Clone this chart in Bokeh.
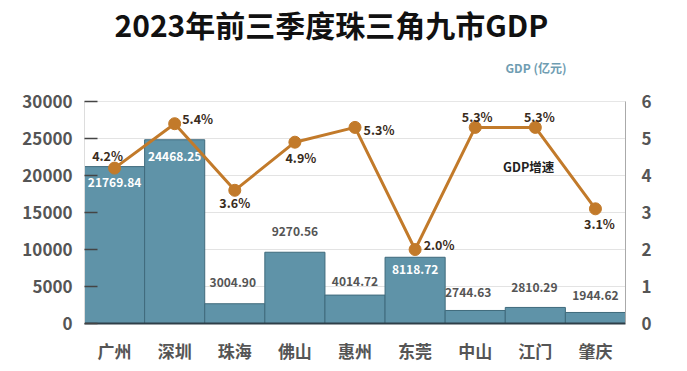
from bokeh.plotting import figure
from bokeh.models import (ColumnDataSource, Range1d, LinearAxis, Label, FactorRange,
                          FixedTicker, Title)
from bokeh.core.properties import value
from bokeh.embed import file_html
from bokeh.resources import INLINE

# ---------------- data ----------------
cities = ['广州', '深圳', '珠海', '佛山', '惠州', '东莞', '中山', '江门', '肇庆']
gdp_bar_heights = [21200, 24830, 2670, 9630, 3840, 8950, 1760, 2170, 1490]
gdp_labels = ['21769.84', '24468.25', '3004.90', '9270.56', '4014.72',
              '8118.72', '2744.63', '2810.29', '1944.62']
growth = [4.2, 5.4, 3.6, 4.9, 5.3, 2.0, 5.3, 5.3, 3.1]
growth_labels = ['4.2%', '5.4%', '3.6%', '4.9%', '5.3%', '2.0%', '5.3%', '5.3%', '3.1%']
left_ticks = [0, 5000, 10000, 15000, 20000, 25000, 30000]
right_ticks = [0, 1, 2, 3, 4, 5, 6]

# ---------------- styles ----------------
FONT = "Noto Sans CJK SC"
BAR_COLOR = "#5f93a8"
BAR_EDGE = "#3f6a7c"
LINE_COLOR = "#c27a2a"
AXIS_TEXT = "#555555"

# per-label pixel offsets (screen, y down) and colours
gdp_lab_dx = [0, 0, -2, 0, 0, 0, -7, -1, 0]
gdp_lab_dy = [16, 17, -21, -21, -14, 12, -18, -20, -17]
gdp_lab_col = ['white', 'white', '#555555', '#555555', '#555555', 'white',
               '#555555', '#555555', '#555555']
gr_dx = [-7, 23, 0, 6, 24, 24, 2, 4, 4]
gr_dy = [-13, -5, 12, 15, 2, -5, -11, -11, 15]

p = figure(x_range=FactorRange(*cities), y_range=Range1d(0, 30000),
           width=687, height=371, output_backend="svg", toolbar_location=None,
           title=None,
           min_border_left=84, min_border_right=62, min_border_top=101,
           min_border_bottom=48)
p.extra_y_ranges = {"rate": Range1d(0, 6)}
p.outline_line_color = "#e6e6e6"
p.background_fill_color = "white"
p.border_fill_color = "white"

src = ColumnDataSource(dict(city=cities, h=gdp_bar_heights, lab=gdp_labels,
                            dx=gdp_lab_dx, dy=gdp_lab_dy, col=gdp_lab_col,
                            g=growth, glab=growth_labels, gdx=gr_dx, gdy=gr_dy))

p.vbar(x='city', top='h', width=1.0, source=src, fill_color=BAR_COLOR,
       line_color=BAR_EDGE, line_width=1)

p.text(x='city', y='h', text='lab', x_offset='dx', y_offset='dy',
       text_color='col', text_font=value(FONT), text_font_size="12px",
       text_font_style="bold", text_align="center", text_baseline="middle",
       source=src)

p.line(x='city', y='g', y_range_name="rate", line_color=LINE_COLOR,
       line_width=3, source=src)
p.scatter(x='city', y='g', y_range_name="rate", size=12, fill_color=LINE_COLOR,
          line_color=LINE_COLOR, source=src)
p.text(x='city', y='g', y_range_name="rate", text='glab', x_offset='gdx',
       y_offset='gdy', text_color="#3a2c1c", text_font=value(FONT),
       text_font_size="12.5px", text_font_style="bold", text_align="center",
       text_baseline="middle", source=src)

# axes
p.yaxis.ticker = FixedTicker(ticks=left_ticks)
p.yaxis.major_label_text_font = FONT
p.yaxis.major_label_text_font_size = "17px"
p.yaxis.major_label_text_font_style = "bold"
p.yaxis.major_label_text_color = AXIS_TEXT
p.yaxis.major_tick_in = 13
p.yaxis.major_tick_out = 0
p.yaxis.major_tick_line_color = "#444444"
p.yaxis.major_tick_line_width = 1.5
p.yaxis.minor_tick_line_color = None
p.yaxis.axis_line_color = "#dddddd"
p.yaxis.major_label_standoff = 12

ra = LinearAxis(y_range_name="rate", ticker=FixedTicker(ticks=right_ticks))
ra.major_label_text_font = FONT
ra.major_label_text_font_size = "17px"
ra.major_label_text_font_style = "bold"
ra.major_label_text_color = AXIS_TEXT
ra.major_tick_line_color = None
ra.minor_tick_line_color = None
ra.axis_line_color = "#aaaaaa"
ra.major_label_standoff = 10
p.add_layout(ra, "right")

p.xaxis.major_label_text_font = FONT
p.xaxis.major_label_text_font_size = "17px"
p.xaxis.major_label_text_font_style = "bold"
p.xaxis.major_label_text_color = AXIS_TEXT
p.xaxis.axis_line_color = "#2f3f48"
p.xaxis.axis_line_width = 2
p.xaxis.major_tick_line_color = None
p.xaxis.minor_tick_line_color = None
p.xaxis.major_label_standoff = 8

p.xgrid.grid_line_color = None
p.ygrid.grid_line_color = "#e3e3e3"
p.ygrid.ticker = FixedTicker(ticks=left_ticks)

# titles (closest to frame added first)
p.add_layout(Title(text="GDP (亿元)", text_font=FONT, text_font_size="12px",
                   text_font_style="bold", text_color="#6f9db2",
                   align="left", offset=421, standoff=51), "above")
p.add_layout(Title(text="2023年前三季度珠三角九市GDP", text_font=FONT,
                   text_font_size="30px", text_font_style="bold",
                   text_color="#111111", align="left", offset=30,
                   vertical_align="bottom", standoff=-28), "above")
p.add_layout(Label(x=7.39, y=21170, text="GDP增速", text_font=FONT,
                   text_font_size="12.5px", text_font_style="bold",
                   text_color="#222222", text_align="center",
                   text_baseline="middle"))

open("out.html", "w").write(file_html(p, INLINE))
